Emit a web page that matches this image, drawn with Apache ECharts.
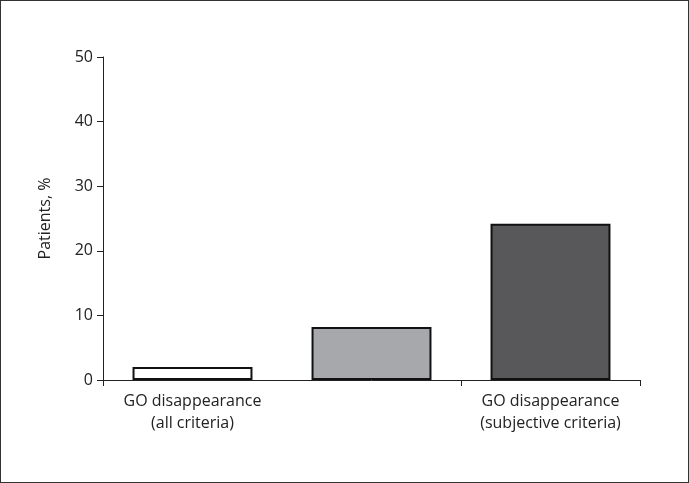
<!DOCTYPE html>
<html><head><meta charset="utf-8">
<script src="https://cdn.jsdelivr.net/npm/echarts@6/dist/echarts.min.js"></script>
<style>html,body{margin:0;padding:0;background:#fff}
#c{position:absolute;left:0;top:0;width:687px;height:481px;border:1px solid #333}</style>
</head><body><div id="c"></div>
<script>
const categories = ['GO disappearance\n(all criteria)', 'GO disappearance\n(objective criteria)', 'GO disappearance\n(subjective criteria)'];
const values = [2.0, 8.2, 24.2];
const barColors = ['#ffffff', '#a7a8ab', '#58585a'];
const yTicks = [0, 10, 20, 30, 40, 50];
const chart = echarts.init(document.getElementById('c'));
const font = 'Open Sans, Liberation Sans, sans-serif';
chart.setOption({
  animation: false,
  grid: {left: 102, right: 48, top: 56, bottom: 102},
  xAxis: {type: 'category', data: categories,
    axisLine: {lineStyle: {color: '#222', width: 1}},
    axisTick: {show: true, length: 6, lineStyle: {color: '#222'}},
    axisLabel: {color: '#222', fontSize: 16, fontFamily: font, lineHeight: 22, margin: 10}},
  yAxis: {type: 'value', min: 0, max: 50, interval: 10,
    name: 'Patients, %', nameLocation: 'middle', nameGap: 50, nameRotate: 90,
    nameTextStyle: {color: '#222', fontSize: 16, fontFamily: font},
    axisLine: {show: true, lineStyle: {color: '#222'}},
    axisTick: {show: true, length: 6, lineStyle: {color: '#222'}},
    splitLine: {show: false},
    axisLabel: {color: '#222', fontSize: 16, fontFamily: font, margin: 10,
      formatter: v => yTicks.includes(v) ? String(v) : ''}},
  series: [{type: 'bar', barWidth: '67%',
    data: values.map((v, i) => ({value: v, itemStyle: {color: barColors[i]}})),
    itemStyle: {borderColor: '#111', borderWidth: 2}}]
});
</script></body></html>
